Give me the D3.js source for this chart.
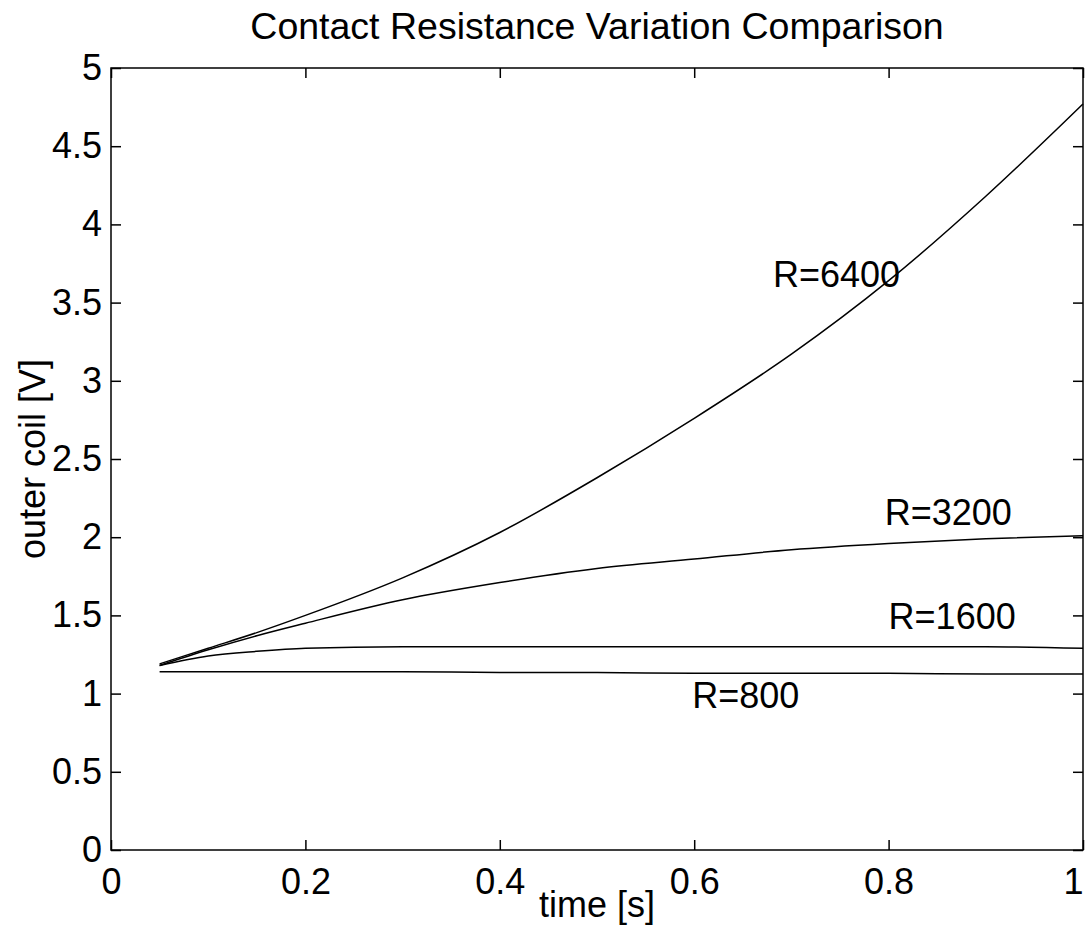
<!DOCTYPE html>
<html>
<head>
<meta charset="utf-8">
<script src="https://cdn.jsdelivr.net/npm/d3@7"></script>
<style>
  body { margin: 0; background: #fff; }
  text { font-family: "Liberation Sans", Arial, Helvetica, sans-serif; }
</style>
</head>
<body>
<div id="chart"></div>
<script>
// values
var times = [0.05, 0.1, 0.15, 0.2, 0.3, 0.4, 0.5, 0.6, 0.7, 0.8, 0.9, 1.0];
var r800  = [1.14, 1.14, 1.14, 1.14, 1.14, 1.135, 1.135, 1.13, 1.13, 1.13, 1.125, 1.125];
var r1600 = [1.18, 1.24, 1.27, 1.29, 1.30, 1.30, 1.30, 1.30, 1.30, 1.30, 1.30, 1.29];
var r3200 = [1.18, 1.28, 1.37, 1.45, 1.60, 1.71, 1.80, 1.86, 1.92, 1.96, 1.99, 2.01];
var r6400 = [1.19, 1.29, 1.39, 1.50, 1.74, 2.03, 2.38, 2.76, 3.17, 3.64, 4.18, 4.77];

var seriesNames = ["R=800", "R=1600", "R=3200", "R=6400"];
// where each curve label sits, in data units (time, volts)
var labelT = [0.598, 0.80, 0.796, 0.681];
var labelV = [0.91, 1.41, 2.08, 3.60];

var xTicks = [0, 0.2, 0.4, 0.6, 0.8, 1];
var yTicks = [0, 0.5, 1, 1.5, 2, 2.5, 3, 3.5, 4, 4.5, 5];

var title = "Contact Resistance Variation Comparison";
var xTitle = "time [s]";
var yTitle = "outer coil [V]";

var margin = { top: 68, right: 3, bottom: 94, left: 111 };
var width = 1086 - margin.left - margin.right;
var height = 944 - margin.top - margin.bottom;

var svg = d3.select("#chart")
  .append("svg")
  .attr("width", 1086)
  .attr("height", 944)
  .append("g")
  .attr("transform", "translate(" + margin.left + "," + margin.top + ")");

var x = d3.scaleLinear().domain([0, 1]).range([0, width]);
var y = d3.scaleLinear().domain([0, 5]).range([height, 0]);

var fmt = d3.format("");

// bottom axis with labels, ticks pointing inward
var xAxis = svg.append("g")
  .attr("transform", "translate(0," + height + ")")
  .call(d3.axisBottom(x).tickValues(xTicks).tickFormat(fmt).tickSizeInner(-10).tickSizeOuter(0).tickPadding(18));

var yAxis = svg.append("g")
  .call(d3.axisLeft(y).tickValues(yTicks).tickFormat(fmt).tickSizeInner(-10).tickSizeOuter(0).tickPadding(9));

// top and right: ticks only
var xTop = svg.append("g")
  .call(d3.axisTop(x).tickValues(xTicks).tickFormat("").tickSizeInner(-10).tickSizeOuter(0));
var yRight = svg.append("g")
  .attr("transform", "translate(" + width + ",0)")
  .call(d3.axisRight(y).tickValues(yTicks).tickFormat("").tickSizeInner(-10).tickSizeOuter(0));

[xAxis, yAxis, xTop, yRight].forEach(function (g) {
  g.select(".domain").remove();
  g.selectAll(".tick line").attr("stroke", "#000").attr("stroke-width", 1.5);
  g.selectAll(".tick text").attr("fill", "#000").style("font-size", "36px");
});

// last x label sits at the page edge, keep it inside
xAxis.selectAll(".tick text")
  .filter(function (d) { return d === 1; })
  .attr("text-anchor", "end");

// box
svg.append("rect")
  .attr("x", 0).attr("y", 0)
  .attr("width", width).attr("height", height)
  .attr("fill", "none")
  .attr("stroke", "#000")
  .attr("stroke-width", 1.5);

var allSeries = [r800, r1600, r3200, r6400];

var line = d3.line()
  .x(function (d, i) { return x(times[i]); })
  .y(function (d) { return y(d); })
  .curve(d3.curveMonotoneX);

allSeries.forEach(function (s) {
  svg.append("path")
    .datum(s)
    .attr("fill", "none")
    .attr("stroke", "#000")
    .attr("stroke-width", 1.5)
    .attr("d", line);
});

seriesNames.forEach(function (name, i) {
  svg.append("text")
    .attr("x", x(labelT[i]))
    .attr("y", y(labelV[i]))
    .style("font-size", "36px")
    .text(name);
});

svg.append("text")
  .attr("x", width / 2)
  .attr("y", 39 - margin.top)
  .attr("text-anchor", "middle")
  .style("font-size", "37.5px")
  .text(title);

svg.append("text")
  .attr("x", width / 2)
  .attr("y", height + 67)
  .attr("text-anchor", "middle")
  .style("font-size", "36px")
  .text(xTitle);

svg.append("text")
  .attr("transform", "translate(" + (45 - margin.left) + "," + (height / 2) + ") rotate(-90)")
  .attr("text-anchor", "middle")
  .style("font-size", "36px")
  .text(yTitle);
</script>
</body>
</html>
